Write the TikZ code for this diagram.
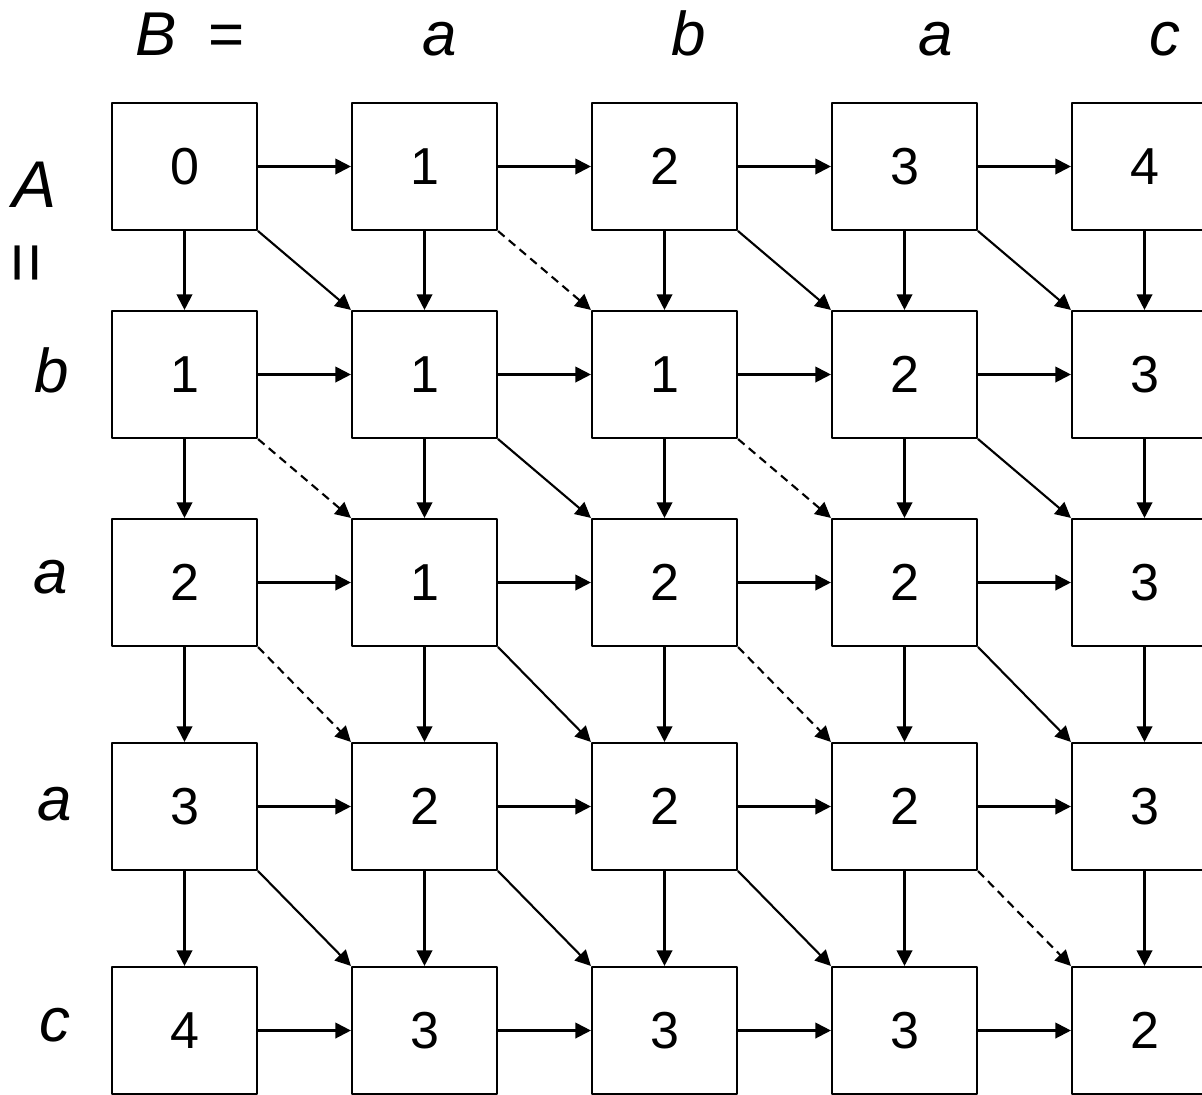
\documentclass[tikz,border=0pt]{standalone}
\usepackage{fontspec}
\setmainfont{Liberation Sans}
\usetikzlibrary{arrows.meta}

\begin{document}
\begin{tikzpicture}[x=0.025cm,y=-0.025cm,line cap=round,line join=round,
  cell/.style={draw,line width=1.5pt,minimum width=3.625cm,minimum height=3.175cm,
    inner sep=0pt,font=\fontsize{37}{44}\selectfont},
  link/.style={line width=1.5pt,-{Triangle[length=11pt,width=11pt]}},
  free/.style={line cap=butt,dash pattern=on 6pt off 4pt},
  letter/.style={anchor=base,font=\fontsize{44}{52}\selectfont\itshape}]
  \clip (0,0) rectangle (1202,1094);
  % string B along the top
  \node[anchor=base,font=\fontsize{44}{52}\selectfont] (nameB) at (190,55) {\textit{B}\hspace{0.5em}=};
  \node[letter] (b1) at (440,55) {a};
  \node[letter] (b2) at (689,55) {b};
  \node[letter] (b3) at (936,55) {a};
  \node[letter] (b4) at (1165,55) {c};
  % string A down the left
  \node[letter,font=\fontsize{47}{52}\selectfont\itshape] (nameA) at (35,207) {A};
  \node[rotate=90,inner sep=0pt,font=\fontsize{50}{56}\selectfont] (eqA) at (32,263) {=};
  \node[letter] (a1) at (52,392) {b};
  \node[letter] (a2) at (51,593) {a};
  \node[letter] (a3) at (55,820) {a};
  \node[letter] (a4) at (55,1041) {c};
  % table of distances
  \foreach \r/\y/\vals in {0/166.5/{0,1,2,3,4}, 1/374.5/{1,1,1,2,3},
      2/582.5/{2,1,2,2,3}, 3/806.5/{3,2,2,2,3}, 4/1030.5/{4,3,3,3,2}}
    \foreach \v [count=\c from 0] in \vals
      \node[cell] (c\r\c) at ({184.5+240*\c},\y) {\v};
  % steps along B
  \foreach \r in {0,...,4}
    \foreach \c in {0,...,3}
    {
      \pgfmathtruncatemacro{\cn}{\c+1}
      \draw[link] (c\r\c.east) -- (c\r\cn.west);
    }
  % steps along A
  \foreach \r in {0,...,3}
    \foreach \c in {0,...,4}
    {
      \pgfmathtruncatemacro{\rn}{\r+1}
      \draw[link] (c\r\c.south) -- (c\rn\c.north);
    }
  % diagonal steps, dashed where the letters match
  \foreach \r/\c/\kind in {0/0/solid, 0/1/free, 0/2/solid, 0/3/solid,
      1/0/free, 1/1/solid, 1/2/free, 1/3/solid,
      2/0/free, 2/1/solid, 2/2/free, 2/3/solid,
      3/0/solid, 3/1/solid, 3/2/solid, 3/3/free}
  {
    \pgfmathtruncatemacro{\rn}{\r+1}
    \pgfmathtruncatemacro{\cn}{\c+1}
    \draw[link,\kind] (c\r\c.south east) -- (c\rn\cn.north west);
  }
\end{tikzpicture}
\end{document}
